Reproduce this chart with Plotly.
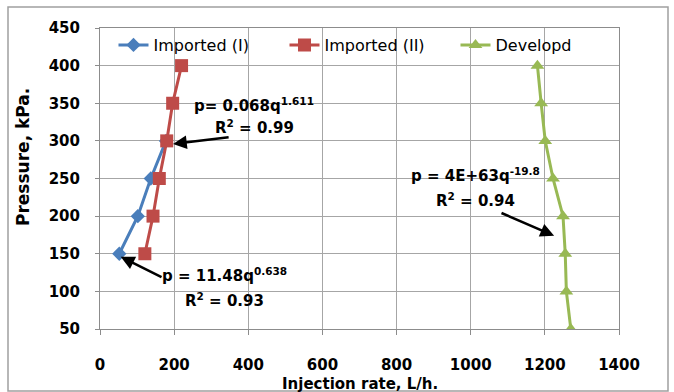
import plotly.graph_objects as go

pressure_I = [150, 200, 250, 300]
rate_I = [52, 102, 137, 178]
pressure_II = [150, 200, 250, 300, 350, 400]
rate_II = [121, 143, 160, 180, 196, 220]
pressure_D = [50, 100, 150, 200, 250, 300, 350, 400]
rate_D = [1270, 1258, 1255, 1249, 1222, 1201, 1190, 1180]

FONT = "DejaVu Sans"
fig = go.Figure()
fig.add_trace(go.Scatter(x=rate_I, y=pressure_I, name="Imported (I)", mode="lines+markers",
                         line=dict(color="#4A7EBB", width=3),
                         marker=dict(symbol="diamond", size=11, color="#4A7EBB")))
fig.add_trace(go.Scatter(x=rate_II, y=pressure_II, name="Imported (II)", mode="lines+markers",
                         line=dict(color="#BE4B48", width=3),
                         marker=dict(symbol="square", size=13, color="#BE4B48")))
fig.add_trace(go.Scatter(x=rate_D, y=pressure_D, name="Developd", mode="lines+markers",
                         line=dict(color="#98B954", width=3),
                         marker=dict(symbol="triangle-up", size=12, color="#98B954")))

ann_font = dict(family=FONT, size=15, color="black")
anns = [
    dict(x=416, y=348, text="<b>p= 0.068q<sup>1.611</sup></b>"),
    dict(x=416, y=318, text="<b>R<sup>2</sup> = 0.99</b>"),
    dict(x=336, y=122, text="<b>p = 11.48q<sup>0.638</sup></b>"),
    dict(x=337, y=89, text="<b>R<sup>2</sup> = 0.93</b>"),
    dict(x=1012, y=255, text="<b>p = 4E+63q<sup>-19.8</sup></b>"),
    dict(x=1012, y=221, text="<b>R<sup>2</sup> = 0.94</b>"),
]
for a in anns:
    fig.add_annotation(x=a["x"], y=a["y"], text=a["text"], showarrow=False, font=ann_font)

# arrows
fig.add_annotation(x=197, y=296, ax=351, ay=305, axref="x", ayref="y", text="",
                   showarrow=True, arrowhead=2, arrowsize=1.1, arrowwidth=2.5, arrowcolor="black")
fig.add_annotation(x=56, y=146, ax=170, ay=118, axref="x", ayref="y", text="",
                   showarrow=True, arrowhead=2, arrowsize=1.1, arrowwidth=2.5, arrowcolor="black")
fig.add_annotation(x=1225, y=174, ax=1079, ay=205, axref="x", ayref="y", text="",
                   showarrow=True, arrowhead=2, arrowsize=1.1, arrowwidth=2.5, arrowcolor="black")

# axis titles
fig.add_annotation(xref="paper", yref="paper", x=(360 - 100) / 519, y=(329 - 384) / 301,
                   xanchor="center", yanchor="middle",
                   text="<b>Injection rate, L/h.</b>", showarrow=False,
                   font=dict(family=FONT, size=15))
fig.add_annotation(xref="paper", yref="paper", x=(23 - 100) / 519, y=(329 - 157) / 301,
                   xanchor="center", yanchor="middle",
                   text="<b>Pressure, kPa.</b>", showarrow=False, textangle=-90,
                   font=dict(family=FONT, size=17))

fig.update_layout(
    width=674, height=392,
    margin=dict(l=100, r=55, t=28, b=63, autoexpand=False),
    paper_bgcolor="white", plot_bgcolor="white",
    font=dict(family=FONT, size=14, color="black"),
    showlegend=True,
    legend=dict(orientation="h", x=0.026, y=1.0, xanchor="left", yanchor="top",
                bgcolor="rgba(0,0,0,0)", font=dict(family=FONT, size=16),
                entrywidth=126, entrywidthmode="pixels", tracegroupgap=0),
    xaxis=dict(range=[0, 1400], dtick=200, showgrid=True, gridcolor="#A6A6A6", gridwidth=1,
               showline=True, linecolor="#8C8C8C", linewidth=1, mirror=True,
               ticks="outside", ticklen=5, tickcolor="#8C8C8C",
               ticklabelstandoff=17, tickfont=dict(family=FONT, size=15),
               automargin=False, zeroline=False, tickformat="d"),
    yaxis=dict(range=[50, 450], dtick=50, showgrid=True, gridcolor="#A6A6A6", gridwidth=1,
               showline=True, linecolor="#8C8C8C", linewidth=1, mirror=True,
               ticks="outside", ticklen=4, tickcolor="#8C8C8C",
               ticklabelstandoff=12, tickfont=dict(family=FONT, size=15),
               automargin=False, zeroline=False),
)
fig.update_xaxes(tickprefix="<b>", ticksuffix="</b>")
fig.update_yaxes(tickprefix="<b>", ticksuffix="</b>")

# chart frame
fig.add_shape(type="rect", xref="paper", yref="paper",
              x0=(8 - 100) / 519, x1=(668 - 100) / 519,
              y0=(329 - 391) / 301, y1=(329 - 7) / 301,
              line=dict(color="#A0A0A0", width=1.5), fillcolor="rgba(0,0,0,0)", layer="below")

fig.write_html("out.html", config={"displayModeBar": False},
               post_script="document.body.style.margin='0';document.body.style.overflow='hidden';")
